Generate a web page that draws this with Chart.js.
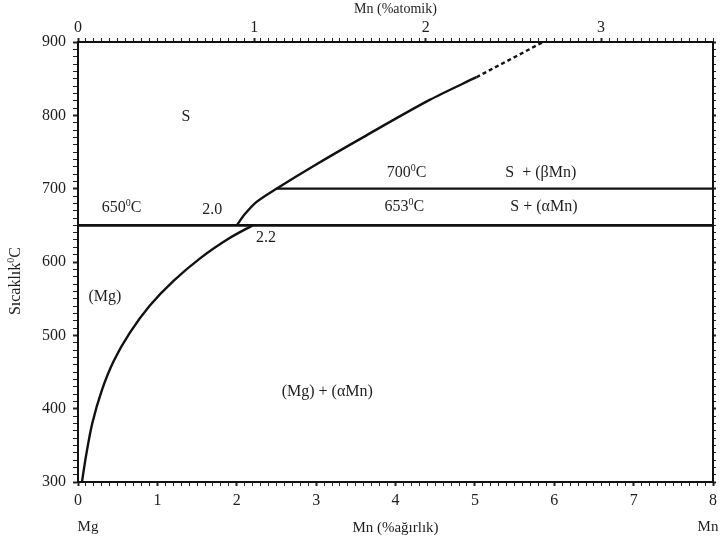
<!DOCTYPE html>
<html>
<head>
<meta charset="utf-8">
<script src="https://cdn.jsdelivr.net/npm/chart.js@4.4.1/dist/chart.umd.min.js"></script>
<style>
  html, body { margin: 0; padding: 0; background: #fff; }
</style>
</head>
<body>
<canvas id="myChart" width="723" height="540"></canvas>
<script>
// axis ticks
const weightTicks = [0, 1, 2, 3, 4, 5, 6, 7, 8];
const atomicTicks = ['0', '1', '2', '3'];
const atomicTickPos = [0, 2.22, 4.38, 6.59]; // where the at% marks sit on the wt% scale
const tempTicks = [300, 400, 500, 600, 700, 800, 900];

// phase boundaries (wt% Mn, degC)
const solvusWt = [0.05, 0.1, 0.18, 0.3, 0.45, 0.65, 0.9, 1.2, 1.55, 1.9, 2.2];
const solvusT = [300, 335, 380, 425, 465, 503, 540, 574, 606, 632, 650];
const liquidusWt = [2.0, 2.1, 2.25, 2.5, 3.0, 3.59, 4.43, 5.02];
const liquidusT = [650, 665, 682, 700, 733, 770, 821, 852];
const liquidusDashWt = [5.02, 5.86];
const liquidusDashT = [852, 900];
const eutecticWt = [0, 8];
const eutecticT = [650, 650];
const peritecticWt = [2.5, 8];
const peritecticT = [700, 700];

// region / point labels ('^' marks the superscript part)
const labelTexts = ['S', '650^0^C', '2.0', '2.2', '(Mg)', '700^0^C', 'S  + (\u03B2Mn)', '653^0^C', 'S + (\u03B1Mn)', '(Mg) + (\u03B1Mn)'];
const labelWt = [1.36, 0.55, 1.69, 2.37, 0.34, 4.14, 5.83, 4.11, 5.87, 3.14];
const labelT = [798, 674, 671, 633, 552, 721, 721, 675, 675, 423];

const serif = '"Liberation Serif", "Times New Roman", serif';
const ink = '#1e1e1e';

function pts(xs, ys) {
    return xs.map((v, i) => ({ x: v, y: ys[i] }));
}

function minorSteps(lo, hi, step) {
    const out = [];
    for (let v = lo; v <= hi + 1e-9; v += step) out.push(Math.round(v * 1000) / 1000);
    return out;
}

function drawRich(ctx, txt, cx, cy, size) {
    const parts = txt.split('^');
    const fonts = parts.map((p, i) => (i % 2 ? Math.round(size * 0.62) : size) + 'px ' + serif);
    let w = 0;
    const widths = parts.map((p, i) => { ctx.font = fonts[i]; const m = ctx.measureText(p).width; w += m; return m; });
    let x = cx - w / 2;
    ctx.textBaseline = 'middle';
    ctx.textAlign = 'left';
    parts.forEach((p, i) => {
        ctx.font = fonts[i];
        ctx.fillText(p, x, i % 2 ? cy - size * 0.3 : cy);
        x += widths[i];
    });
}

const textPlugin = {
    id: 'phaseText',
    afterDraw(chart) {
        const { ctx, scales: { x, y } } = chart;
        ctx.save();
        ctx.fillStyle = ink;
        labelTexts.forEach((t, i) => {
            drawRich(ctx, t, x.getPixelForValue(labelWt[i]), y.getPixelForValue(labelT[i]), 16);
        });
        // element names under the ends of the bottom axis
        drawRich(ctx, 'Mg', x.getPixelForValue(0) + 10, 527, 15);
        drawRich(ctx, 'Mn', x.getPixelForValue(8) - 5, 527, 15);
        // rotated y title
        ctx.translate(16, y.getPixelForValue(574));
        ctx.rotate(-Math.PI / 2);
        drawRich(ctx, 'S\u0131cakl\u0131k^0^C', 0, 0, 16);
        ctx.restore();
    }
};

const lineStyle = {
    showLine: true,
    pointRadius: 0,
    borderColor: '#111',
    backgroundColor: '#111',
    borderWidth: 2.4,
    fill: false,
    tension: 0.3,
};

const majorW = (ctx) => {
    const v = ctx.tick ? ctx.tick.value : 0;
    return Math.abs(v - Math.round(v)) < 1e-6 ? 2 : 1;
};

const myCanvas = document.getElementById('myChart').getContext('2d');

const myChart = new Chart(myCanvas, {
    type: 'scatter',
    data: {
        datasets: [
            { ...lineStyle, data: pts(solvusWt, solvusT) },
            { ...lineStyle, data: pts(liquidusWt, liquidusT) },
            { ...lineStyle, data: pts(liquidusDashWt, liquidusDashT), borderDash: [4, 3], tension: 0 },
            { ...lineStyle, data: pts(eutecticWt, eutecticT), borderWidth: 2.6, tension: 0 },
            { ...lineStyle, data: pts(peritecticWt, peritecticT), tension: 0 },
        ],
    },
    options: {
        responsive: false,
        animation: false,
        devicePixelRatio: 1,
        layout: { padding: 0 },
        plugins: {
            legend: { display: false },
            tooltip: { enabled: false },
        },
        scales: {
            x: {
                type: 'linear',
                position: 'bottom',
                min: 0,
                max: 8,
                afterBuildTicks: (s) => { s.ticks = minorSteps(0, 8, 0.1).map(v => ({ value: v })); },
                afterFit: (s) => { s.height = 58; },
                ticks: {
                    autoSkip: false,
                    maxRotation: 0,
                    padding: 5,
                    color: ink,
                    font: { family: serif, size: 16 },
                    callback: (v) => {
                        const r = Math.round(v);
                        return Math.abs(v - r) < 1e-6 && weightTicks.includes(r) ? String(r) : '';
                    },
                },
                grid: { drawOnChartArea: false, tickLength: 4, tickColor: '#222', tickWidth: majorW },
                border: { display: true, color: '#111', width: 2 },
                title: {
                    display: true,
                    text: 'Mn (%a\u011F\u0131rl\u0131k)',
                    color: ink,
                    font: { family: serif, size: 15 },
                    padding: { top: 0, bottom: 3 },
                },
            },
            x2: {
                type: 'linear',
                position: 'top',
                min: 0,
                max: 8,
                afterBuildTicks: (s) => {
                    const vals = minorSteps(0, 8, 0.1).filter(v => atomicTickPos.every(p => Math.abs(p - v) > 0.04));
                    s.ticks = vals.concat(atomicTickPos).sort((a, b) => a - b).map(v => ({ value: v }));
                },
                afterFit: (s) => { s.height = 42; },
                ticks: {
                    autoSkip: false,
                    maxRotation: 0,
                    padding: 1,
                    color: ink,
                    font: { family: serif, size: 16 },
                    callback: (v) => {
                        const k = atomicTickPos.findIndex(p => Math.abs(p - v) < 1e-6);
                        return k >= 0 ? atomicTicks[k] : '';
                    },
                },
                grid: {
                    drawOnChartArea: false,
                    tickLength: 4,
                    tickColor: '#222',
                    tickWidth: (ctx) => (ctx.tick && atomicTickPos.some(p => Math.abs(p - ctx.tick.value) < 1e-6) ? 2 : 1),
                },
                border: { display: true, color: '#111', width: 2 },
                title: {
                    display: true,
                    text: 'Mn (%atomik)',
                    color: ink,
                    font: { family: serif, size: 14 },
                    padding: { top: 1, bottom: 0 },
                },
            },
            y: {
                type: 'linear',
                position: 'left',
                min: 300,
                max: 900,
                afterBuildTicks: (s) => { s.ticks = minorSteps(300, 900, 10).map(v => ({ value: v })); },
                afterFit: (s) => { s.width = 78; },
                ticks: {
                    autoSkip: false,
                    padding: 7,
                    color: ink,
                    font: { family: serif, size: 16 },
                    callback: (v) => (tempTicks.includes(Math.round(v)) && Math.abs(v % 100) < 1e-6 ? String(Math.round(v)) : ''),
                },
                grid: {
                    drawOnChartArea: false,
                    tickLength: 5,
                    tickColor: '#222',
                    tickWidth: (ctx) => (ctx.tick && ctx.tick.value % 100 === 0 ? 2 : 1),
                },
                border: { display: true, color: '#111', width: 2 },
            },
            y2: {
                type: 'linear',
                position: 'right',
                min: 300,
                max: 900,
                afterBuildTicks: (s) => { s.ticks = minorSteps(300, 900, 10).map(v => ({ value: v })); },
                afterFit: (s) => { s.width = 10; },
                ticks: { display: false },
                grid: {
                    drawOnChartArea: false,
                    tickLength: 3,
                    tickColor: '#222',
                    tickWidth: (ctx) => (ctx.tick && ctx.tick.value % 100 === 0 ? 2 : 1),
                },
                border: { display: true, color: '#111', width: 2 },
            },
        },
    },
    plugins: [textPlugin],
});
</script>
</body>
</html>
